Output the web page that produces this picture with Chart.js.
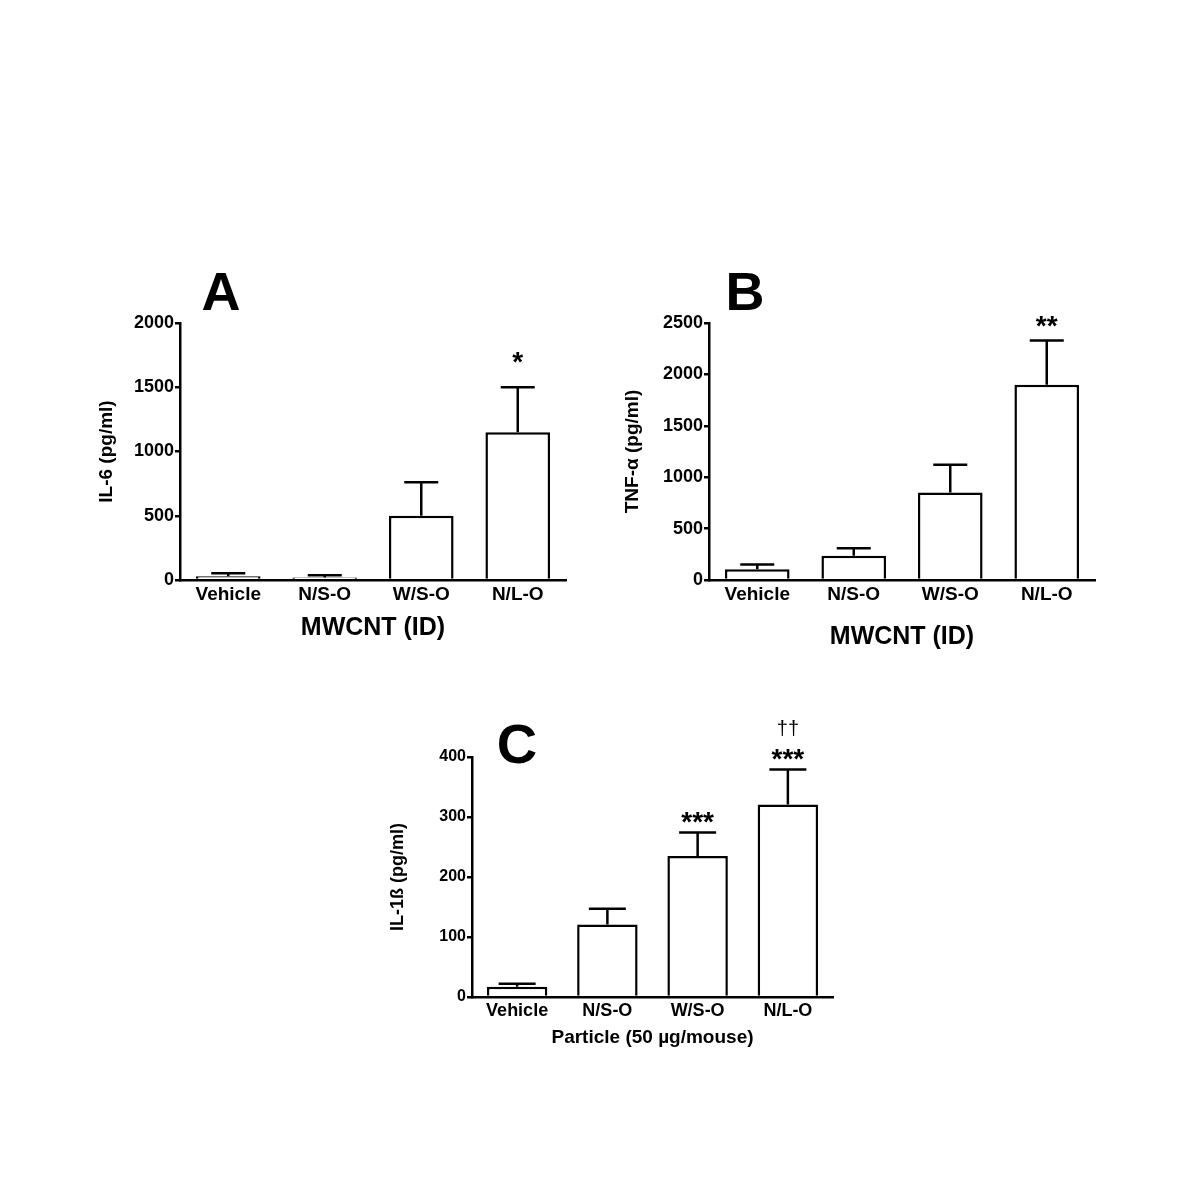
<!DOCTYPE html>
<html lang="en">
<head>
<meta charset="UTF-8">
<title>MWCNT cytokines</title>
<script src="https://cdn.jsdelivr.net/npm/chart.js"></script>
<style>
  body { margin: 0; background: #fff; }
  #wrap { position: relative; width: 1200px; height: 1200px; background: #fff; }
  canvas { position: absolute; }
</style>
</head>
<body>
<div id="wrap">
  <canvas id="chartA" width="520" height="420" style="left:60px;top:250px"></canvas>
  <canvas id="chartB" width="520" height="420" style="left:590px;top:250px"></canvas>
  <canvas id="chartC" width="500" height="380" style="left:360px;top:690px"></canvas>
</div>
<script>
  // groups (same for all three panels)
  const categories = ['Vehicle', 'N/S-O', 'W/S-O', 'N/L-O'];

  // A: IL-6
  const il6Mean = [30, 20, 500, 1150];
  const il6Err = [22, 16, 260, 350];
  const il6Sig = [[], [], [], ['*']];

  // B: TNF-alpha
  const tnfMean = [105, 235, 850, 1900];
  const tnfErr = [45, 75, 270, 430];
  const tnfSig = [[], [], [], ['**']];

  // C: IL-1beta
  const il1Mean = [17, 121, 235, 321];
  const il1Err = [5, 26, 39, 58];
  const il1Sig = [[], [], ['***'], ['***', '††']];

  const FONT = "'Liberation Sans', Arial, Helvetica, sans-serif";

  // error bars (upper only), significance marks and panel letter
  const extrasPlugin = {
    id: 'extras',
    afterDatasetsDraw(chart, args, opts) {
      const ctx = chart.ctx;
      const y = chart.scales.y;
      const meta = chart.getDatasetMeta(0);
      const means = chart.data.datasets[0].data;
      ctx.save();
      ctx.strokeStyle = '#000';
      ctx.lineWidth = 2.5;
      ctx.lineCap = 'butt';
      meta.data.forEach((bar, i) => {
        const yBar = y.getPixelForValue(means[i]);
        const yTop = y.getPixelForValue(means[i] + opts.errors[i]);
        ctx.beginPath();
        ctx.moveTo(bar.x, yBar);
        ctx.lineTo(bar.x, yTop);
        ctx.moveTo(bar.x - opts.cap / 2, yTop);
        ctx.lineTo(bar.x + opts.cap / 2, yTop);
        ctx.stroke();

        // stars / daggers stacked upward above the cap
        ctx.fillStyle = '#000';
        ctx.textAlign = 'center';
        ctx.textBaseline = 'alphabetic';
        let base = yTop - opts.sigGap;
        opts.sig[i].forEach((s, k) => {
          if (s.indexOf('†') >= 0) {
            ctx.font = '20px ' + FONT;
          } else {
            ctx.font = 'bold 28px ' + FONT;
          }
          if (k > 0) base -= 33;
          ctx.fillText(s, bar.x, base);
        });
      });

      const area = chart.chartArea;
      ctx.font = 'bold ' + opts.letterSize + 'px ' + FONT;
      ctx.textAlign = 'center';
      ctx.fillText(opts.letter, area.left + opts.letterDx, area.top + opts.letterDy);
      ctx.restore();
    }
  };

  function makePanel(id, cfg) {
    return new Chart(document.getElementById(id), {
      type: 'bar',
      data: {
        labels: categories,
        datasets: [{
          data: cfg.means,
          backgroundColor: '#ffffff',
          borderColor: '#000000',
          borderWidth: 2.5,
          borderSkipped: 'start',
          barPercentage: 0.67,
          categoryPercentage: 1.0
        }]
      },
      options: {
        responsive: false,
        animation: false,
        layout: { padding: cfg.pad },
        plugins: {
          legend: { display: false },
          tooltip: { enabled: false },
          extras: {
            errors: cfg.errors, sig: cfg.sig, cap: cfg.cap, sigGap: cfg.sigGap,
            letter: cfg.letter, letterSize: cfg.letterSize,
            letterDx: cfg.letterDx, letterDy: cfg.letterDy
          }
        },
        scales: {
          x: {
            afterFit(scale) { scale.height = cfg.xHeight; },
            grid: { display: false, drawTicks: false },
            border: { display: true, color: '#000', width: 2.5 },
            ticks: { color: '#000', padding: 3, font: { family: FONT, weight: 'bold', size: cfg.xTick } },
            title: {
              display: true, text: cfg.xTitle, color: '#000',
              font: { family: FONT, weight: 'bold', size: cfg.xTitleSize },
              padding: { top: 0, bottom: cfg.xTitlePad }
            }
          },
          y: {
            min: 0, max: cfg.yMax,
            afterFit(scale) { scale.width = cfg.yWidth; },
            grid: { display: true, drawOnChartArea: false, drawTicks: true, tickLength: 5, color: '#000', lineWidth: 2.5 },
            border: { display: true, color: '#000', width: 2.5 },
            ticks: {
              stepSize: cfg.yStep, color: '#000', padding: 1,
              font: { family: FONT, weight: 'bold', size: cfg.yTick },
              callback: (v) => String(v)
            },
            title: {
              display: true, text: cfg.yTitle, color: '#000',
              font: { family: FONT, weight: 'bold', size: cfg.yTitleSize },
              padding: { top: cfg.yTitlePad, bottom: 0 }
            }
          }
        }
      },
      plugins: [extrasPlugin]
    });
  }

  makePanel('chartA', {
    means: il6Mean, errors: il6Err, sig: il6Sig,
    yMax: 2000, yStep: 500, yTitle: 'IL-6 (pg/ml)', xTitle: 'MWCNT (ID)',
    pad: { left: 0, top: 73, right: 14, bottom: 0 }, yWidth: 120, xHeight: 90,
    xTick: 19, yTick: 18, xTitleSize: 25, yTitleSize: 19, xTitlePad: 27, yTitlePad: 35,
    cap: 34, sigGap: 16, letter: 'A', letterSize: 54, letterDx: 41, letterDy: -13
  });

  makePanel('chartB', {
    means: tnfMean, errors: tnfErr, sig: tnfSig,
    yMax: 2500, yStep: 500, yTitle: 'TNF-α (pg/ml)', xTitle: 'MWCNT (ID)',
    pad: { left: 0, top: 73, right: 15, bottom: 0 }, yWidth: 119, xHeight: 90,
    xTick: 19, yTick: 18, xTitleSize: 25, yTitleSize: 19, xTitlePad: 18, yTitlePad: 31,
    cap: 34, sigGap: 5, letter: 'B', letterSize: 54, letterDx: 36, letterDy: -13
  });

  makePanel('chartC', {
    means: il1Mean, errors: il1Err, sig: il1Sig,
    yMax: 400, yStep: 100, yTitle: 'IL-1ß (pg/ml)', xTitle: 'Particle (50 µg/mouse)',
    pad: { left: 0, top: 67, right: 27, bottom: 0 }, yWidth: 112, xHeight: 73,
    xTick: 18, yTick: 16, xTitleSize: 19, yTitleSize: 18, xTitlePad: 21, yTitlePad: 27,
    cap: 37, sigGap: 2, letter: 'C', letterSize: 56, letterDx: 45, letterDy: 6
  });
</script>
</body>
</html>
